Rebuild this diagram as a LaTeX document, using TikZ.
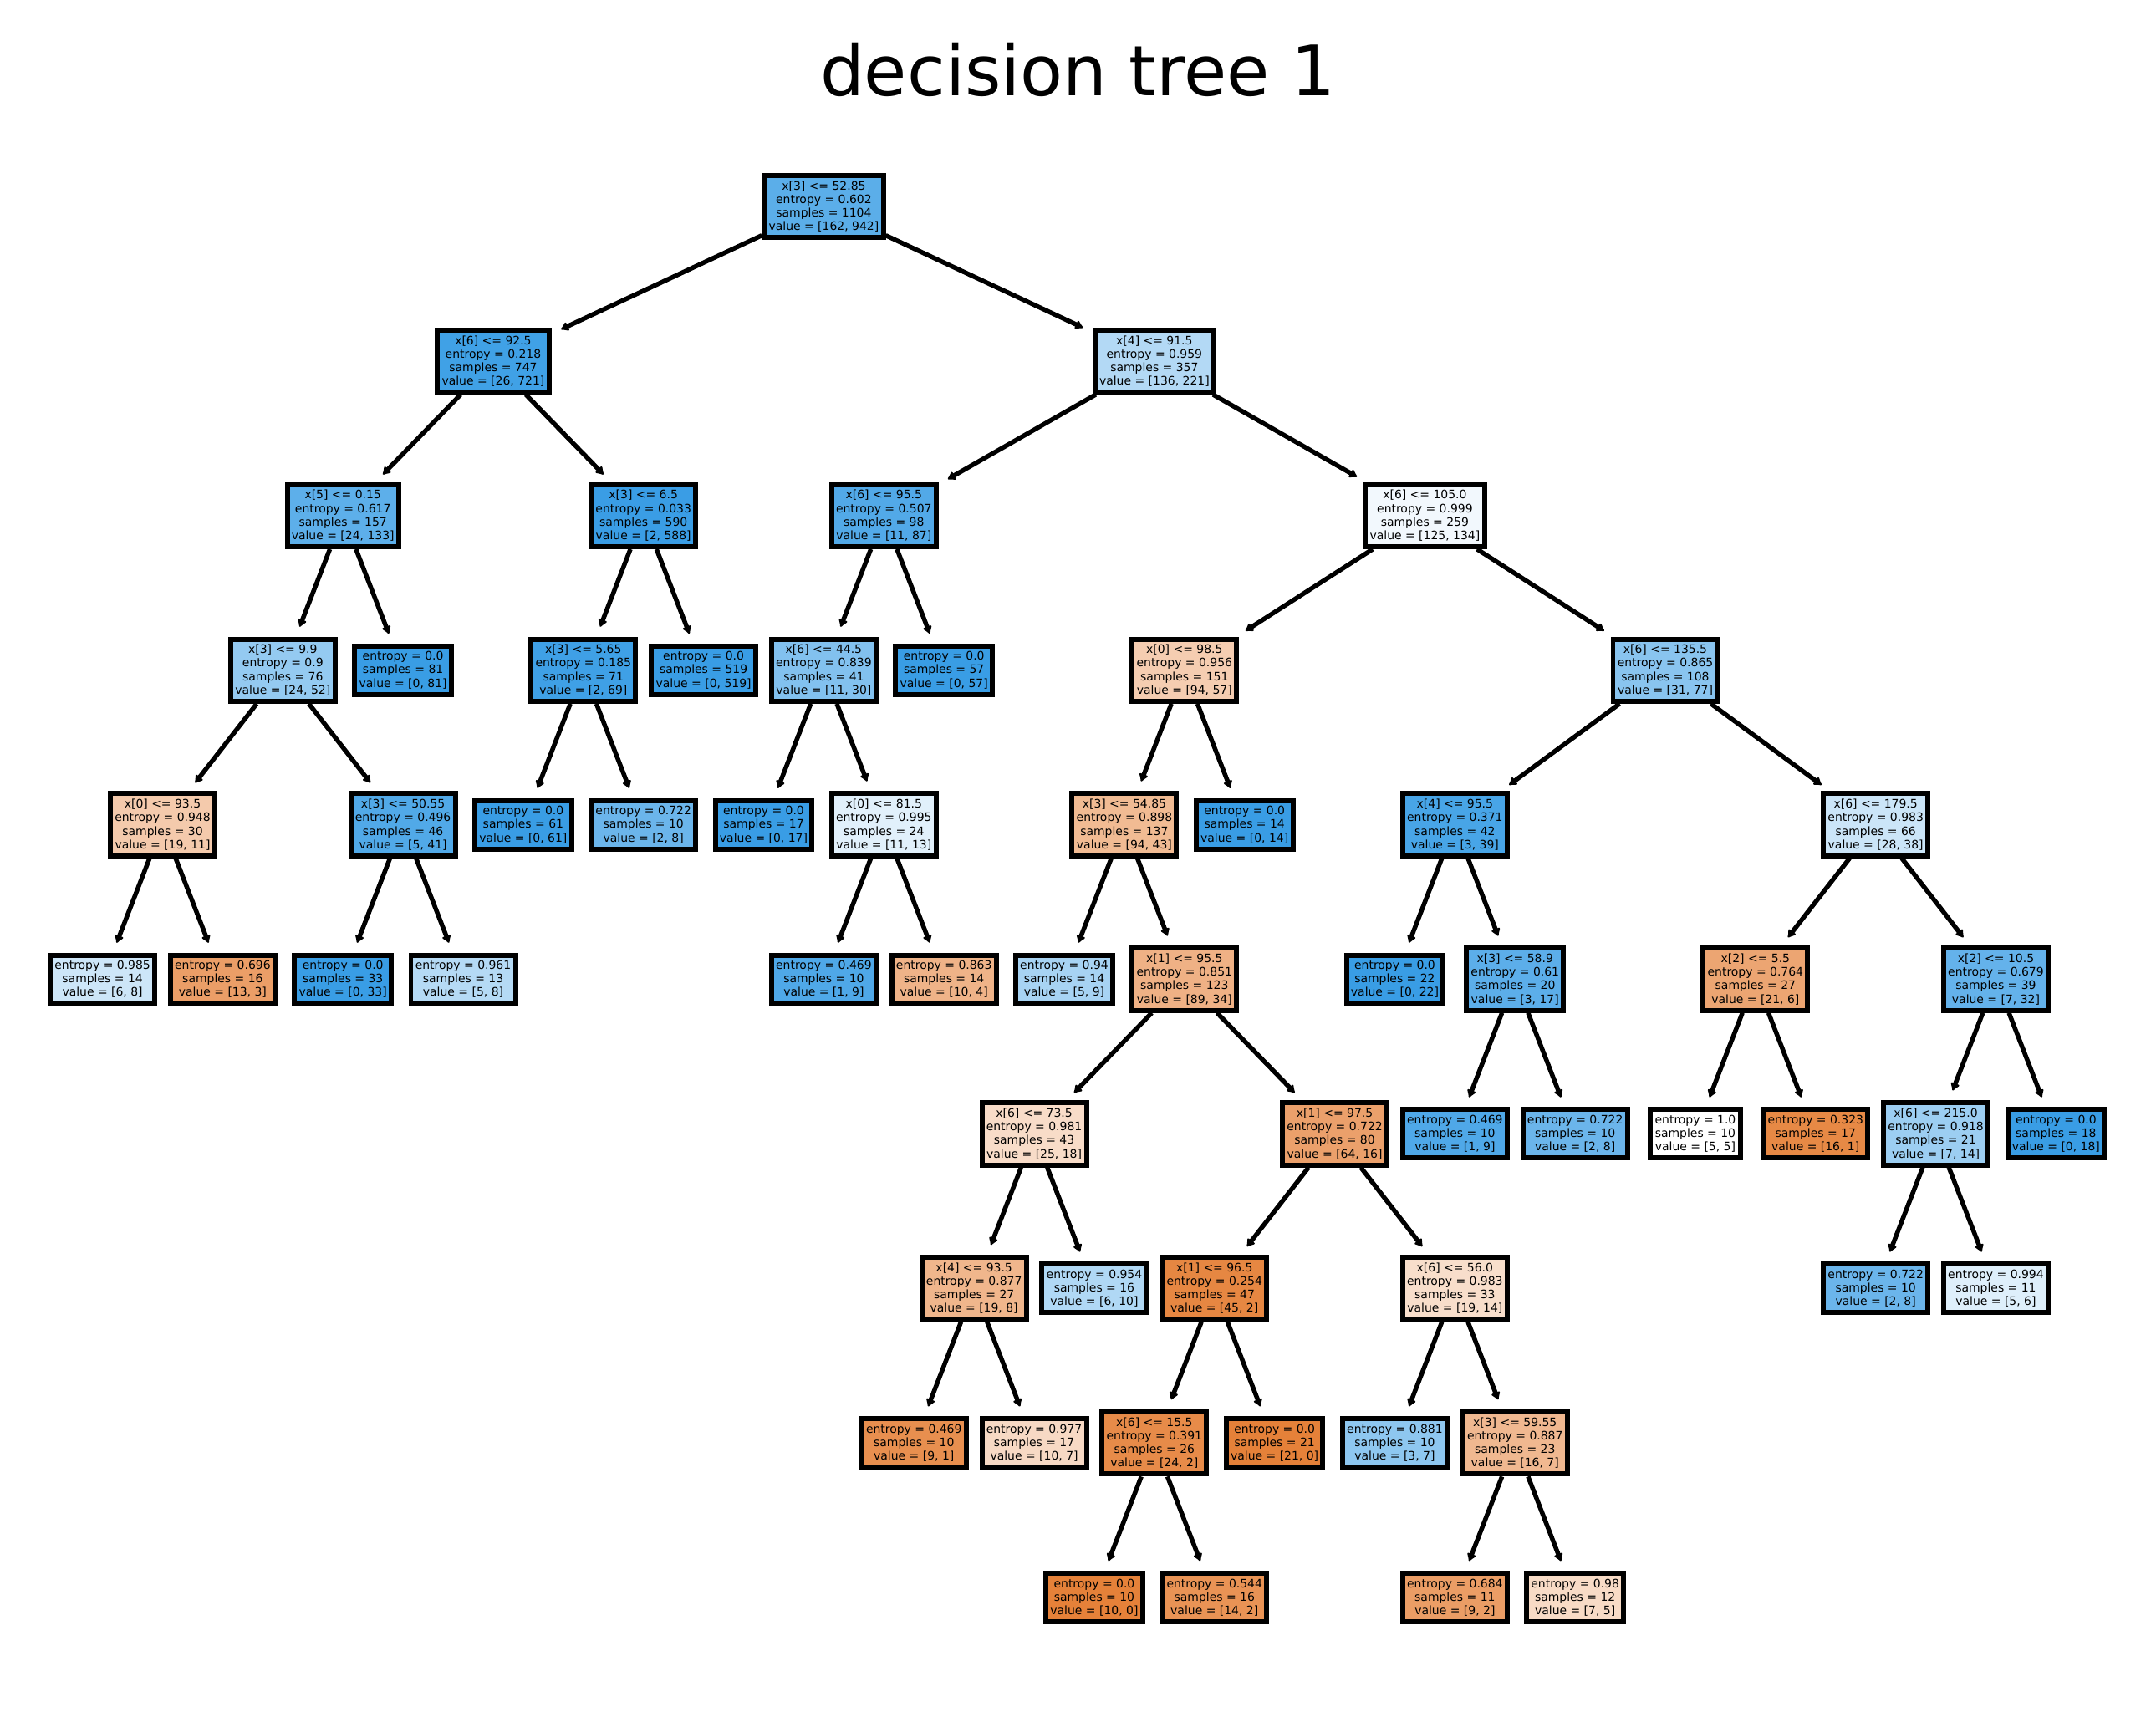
\documentclass[tikz,border=0pt]{standalone}
\usepackage{fontspec}
\setmainfont{DejaVu Sans}
\usetikzlibrary{arrows.meta}

\definecolor{orangecls}{RGB}{229,129,57}
\definecolor{bluecls}{RGB}{57,157,229}

\tikzset{
  treebox/.style={draw, line width=1.7pt, align=center, inner xsep=1.5pt, inner ysep=1.9pt,
    font=\fontsize{3.97}{4.6}\selectfont},
  arr/.style={line width=1.55pt, -{Latex[length=3pt,width=3.8pt,round]}, shorten >=3.6pt},
}

\begin{document}
\begin{tikzpicture}[x=0.719cm, y=-1.849cm]
\useasboundingbox (-1.226cm,2.47cm) rectangle ++(25.79cm,-20.53cm);
\node[font=\fontsize{23.7}{28}\selectfont, anchor=base] (title) at (11.669cm,1.327cm) {decision tree 1};

% fill = class colour mixed with white by 1 - min/max of the counts
\node[treebox, fill=bluecls!82.8] (0) at (12,0) {x[3] <= 52.85\\entropy = 0.602\\samples = 1104\\value = [162, 942]};
\node[treebox, fill=bluecls!96.4] (1) at (6.5,1) {x[6] <= 92.5\\entropy = 0.218\\samples = 747\\value = [26, 721]};
\node[treebox, fill=bluecls!82.0] (2) at (4,2) {x[5] <= 0.15\\entropy = 0.617\\samples = 157\\value = [24, 133]};
\node[treebox, fill=bluecls!53.8] (3) at (3,3) {x[3] <= 9.9\\entropy = 0.9\\samples = 76\\value = [24, 52]};
\node[treebox, fill=orangecls!42.1] (4) at (1,4) {x[0] <= 93.5\\entropy = 0.948\\samples = 30\\value = [19, 11]};
\node[treebox, fill=bluecls!25] (5) at (0,5) {entropy = 0.985\\samples = 14\\value = [6, 8]};
\node[treebox, fill=orangecls!76.9] (6) at (2,5) {entropy = 0.696\\samples = 16\\value = [13, 3]};
\node[treebox, fill=bluecls!87.8] (7) at (5,4) {x[3] <= 50.55\\entropy = 0.496\\samples = 46\\value = [5, 41]};
\node[treebox, fill=bluecls] (8) at (4,5) {entropy = 0.0\\samples = 33\\value = [0, 33]};
\node[treebox, fill=bluecls!37.5] (9) at (6,5) {entropy = 0.961\\samples = 13\\value = [5, 8]};
\node[treebox, fill=bluecls] (10) at (5,3) {entropy = 0.0\\samples = 81\\value = [0, 81]};
\node[treebox, fill=bluecls!99.7] (11) at (9,2) {x[3] <= 6.5\\entropy = 0.033\\samples = 590\\value = [2, 588]};
\node[treebox, fill=bluecls!97.1] (12) at (8,3) {x[3] <= 5.65\\entropy = 0.185\\samples = 71\\value = [2, 69]};
\node[treebox, fill=bluecls] (13) at (7,4) {entropy = 0.0\\samples = 61\\value = [0, 61]};
\node[treebox, fill=bluecls!75] (14) at (9,4) {entropy = 0.722\\samples = 10\\value = [2, 8]};
\node[treebox, fill=bluecls] (15) at (10,3) {entropy = 0.0\\samples = 519\\value = [0, 519]};
\node[treebox, fill=bluecls!38.5] (16) at (17.5,1) {x[4] <= 91.5\\entropy = 0.959\\samples = 357\\value = [136, 221]};
\node[treebox, fill=bluecls!87.4] (17) at (13,2) {x[6] <= 95.5\\entropy = 0.507\\samples = 98\\value = [11, 87]};
\node[treebox, fill=bluecls!63.3] (18) at (12,3) {x[6] <= 44.5\\entropy = 0.839\\samples = 41\\value = [11, 30]};
\node[treebox, fill=bluecls] (19) at (11,4) {entropy = 0.0\\samples = 17\\value = [0, 17]};
\node[treebox, fill=bluecls!15.4] (20) at (13,4) {x[0] <= 81.5\\entropy = 0.995\\samples = 24\\value = [11, 13]};
\node[treebox, fill=bluecls!88.9] (21) at (12,5) {entropy = 0.469\\samples = 10\\value = [1, 9]};
\node[treebox, fill=orangecls!60] (22) at (14,5) {entropy = 0.863\\samples = 14\\value = [10, 4]};
\node[treebox, fill=bluecls] (23) at (14,3) {entropy = 0.0\\samples = 57\\value = [0, 57]};
\node[treebox, fill=bluecls!6.7] (24) at (22,2) {x[6] <= 105.0\\entropy = 0.999\\samples = 259\\value = [125, 134]};
\node[treebox, fill=orangecls!39.4] (25) at (18,3) {x[0] <= 98.5\\entropy = 0.956\\samples = 151\\value = [94, 57]};
\node[treebox, fill=orangecls!54.3] (26) at (17,4) {x[3] <= 54.85\\entropy = 0.898\\samples = 137\\value = [94, 43]};
\node[treebox, fill=bluecls!44.4] (27) at (16,5) {entropy = 0.94\\samples = 14\\value = [5, 9]};
\node[treebox, fill=orangecls!61.8] (28) at (18,5) {x[1] <= 95.5\\entropy = 0.851\\samples = 123\\value = [89, 34]};
\node[treebox, fill=orangecls!28] (29) at (15.5,6) {x[6] <= 73.5\\entropy = 0.981\\samples = 43\\value = [25, 18]};
\node[treebox, fill=orangecls!57.9] (30) at (14.5,7) {x[4] <= 93.5\\entropy = 0.877\\samples = 27\\value = [19, 8]};
\node[treebox, fill=orangecls!88.9] (31) at (13.5,8) {entropy = 0.469\\samples = 10\\value = [9, 1]};
\node[treebox, fill=orangecls!30] (32) at (15.5,8) {entropy = 0.977\\samples = 17\\value = [10, 7]};
\node[treebox, fill=bluecls!40] (33) at (16.5,7) {entropy = 0.954\\samples = 16\\value = [6, 10]};
\node[treebox, fill=orangecls!75] (34) at (20.5,6) {x[1] <= 97.5\\entropy = 0.722\\samples = 80\\value = [64, 16]};
\node[treebox, fill=orangecls!95.6] (35) at (18.5,7) {x[1] <= 96.5\\entropy = 0.254\\samples = 47\\value = [45, 2]};
\node[treebox, fill=orangecls!91.7] (36) at (17.5,8) {x[6] <= 15.5\\entropy = 0.391\\samples = 26\\value = [24, 2]};
\node[treebox, fill=orangecls] (37) at (16.5,9) {entropy = 0.0\\samples = 10\\value = [10, 0]};
\node[treebox, fill=orangecls!85.7] (38) at (18.5,9) {entropy = 0.544\\samples = 16\\value = [14, 2]};
\node[treebox, fill=orangecls] (39) at (19.5,8) {entropy = 0.0\\samples = 21\\value = [21, 0]};
\node[treebox, fill=orangecls!26.3] (40) at (22.5,7) {x[6] <= 56.0\\entropy = 0.983\\samples = 33\\value = [19, 14]};
\node[treebox, fill=bluecls!57.1] (41) at (21.5,8) {entropy = 0.881\\samples = 10\\value = [3, 7]};
\node[treebox, fill=orangecls!56.3] (42) at (23.5,8) {x[3] <= 59.55\\entropy = 0.887\\samples = 23\\value = [16, 7]};
\node[treebox, fill=orangecls!77.8] (43) at (22.5,9) {entropy = 0.684\\samples = 11\\value = [9, 2]};
\node[treebox, fill=orangecls!28.6] (44) at (24.5,9) {entropy = 0.98\\samples = 12\\value = [7, 5]};
\node[treebox, fill=bluecls] (45) at (19,4) {entropy = 0.0\\samples = 14\\value = [0, 14]};
\node[treebox, fill=bluecls!59.7] (46) at (26,3) {x[6] <= 135.5\\entropy = 0.865\\samples = 108\\value = [31, 77]};
\node[treebox, fill=bluecls!92.3] (47) at (22.5,4) {x[4] <= 95.5\\entropy = 0.371\\samples = 42\\value = [3, 39]};
\node[treebox, fill=bluecls] (48) at (21.5,5) {entropy = 0.0\\samples = 22\\value = [0, 22]};
\node[treebox, fill=bluecls!82.4] (49) at (23.5,5) {x[3] <= 58.9\\entropy = 0.61\\samples = 20\\value = [3, 17]};
\node[treebox, fill=bluecls!88.9] (50) at (22.5,6) {entropy = 0.469\\samples = 10\\value = [1, 9]};
\node[treebox, fill=bluecls!75] (51) at (24.5,6) {entropy = 0.722\\samples = 10\\value = [2, 8]};
\node[treebox, fill=bluecls!26.3] (52) at (29.5,4) {x[6] <= 179.5\\entropy = 0.983\\samples = 66\\value = [28, 38]};
\node[treebox, fill=orangecls!71.4] (53) at (27.5,5) {x[2] <= 5.5\\entropy = 0.764\\samples = 27\\value = [21, 6]};
\node[treebox, fill=white] (54) at (26.5,6) {entropy = 1.0\\samples = 10\\value = [5, 5]};
\node[treebox, fill=orangecls!93.8] (55) at (28.5,6) {entropy = 0.323\\samples = 17\\value = [16, 1]};
\node[treebox, fill=bluecls!78.1] (56) at (31.5,5) {x[2] <= 10.5\\entropy = 0.679\\samples = 39\\value = [7, 32]};
\node[treebox, fill=bluecls!50] (57) at (30.5,6) {x[6] <= 215.0\\entropy = 0.918\\samples = 21\\value = [7, 14]};
\node[treebox, fill=bluecls!75] (58) at (29.5,7) {entropy = 0.722\\samples = 10\\value = [2, 8]};
\node[treebox, fill=bluecls!16.7] (59) at (31.5,7) {entropy = 0.994\\samples = 11\\value = [5, 6]};
\node[treebox, fill=bluecls] (60) at (32.5,6) {entropy = 0.0\\samples = 18\\value = [0, 18]};

\path[draw,arr] (0) -- (1);
\path[draw,arr] (0) -- (16);
\path[draw,arr] (1) -- (2);
\path[draw,arr] (1) -- (11);
\path[draw,arr] (2) -- (3);
\path[draw,arr] (2) -- (10);
\path[draw,arr] (3) -- (4);
\path[draw,arr] (3) -- (7);
\path[draw,arr] (4) -- (5);
\path[draw,arr] (4) -- (6);
\path[draw,arr] (7) -- (8);
\path[draw,arr] (7) -- (9);
\path[draw,arr] (11) -- (12);
\path[draw,arr] (11) -- (15);
\path[draw,arr] (12) -- (13);
\path[draw,arr] (12) -- (14);
\path[draw,arr] (16) -- (17);
\path[draw,arr] (16) -- (24);
\path[draw,arr] (17) -- (18);
\path[draw,arr] (17) -- (23);
\path[draw,arr] (18) -- (19);
\path[draw,arr] (18) -- (20);
\path[draw,arr] (20) -- (21);
\path[draw,arr] (20) -- (22);
\path[draw,arr] (24) -- (25);
\path[draw,arr] (24) -- (46);
\path[draw,arr] (25) -- (26);
\path[draw,arr] (25) -- (45);
\path[draw,arr] (26) -- (27);
\path[draw,arr] (26) -- (28);
\path[draw,arr] (28) -- (29);
\path[draw,arr] (28) -- (34);
\path[draw,arr] (29) -- (30);
\path[draw,arr] (29) -- (33);
\path[draw,arr] (30) -- (31);
\path[draw,arr] (30) -- (32);
\path[draw,arr] (34) -- (35);
\path[draw,arr] (34) -- (40);
\path[draw,arr] (35) -- (36);
\path[draw,arr] (35) -- (39);
\path[draw,arr] (36) -- (37);
\path[draw,arr] (36) -- (38);
\path[draw,arr] (40) -- (41);
\path[draw,arr] (40) -- (42);
\path[draw,arr] (42) -- (43);
\path[draw,arr] (42) -- (44);
\path[draw,arr] (46) -- (47);
\path[draw,arr] (46) -- (52);
\path[draw,arr] (47) -- (48);
\path[draw,arr] (47) -- (49);
\path[draw,arr] (49) -- (50);
\path[draw,arr] (49) -- (51);
\path[draw,arr] (52) -- (53);
\path[draw,arr] (52) -- (56);
\path[draw,arr] (53) -- (54);
\path[draw,arr] (53) -- (55);
\path[draw,arr] (56) -- (57);
\path[draw,arr] (56) -- (60);
\path[draw,arr] (57) -- (58);
\path[draw,arr] (57) -- (59);
\end{tikzpicture}
\end{document}
